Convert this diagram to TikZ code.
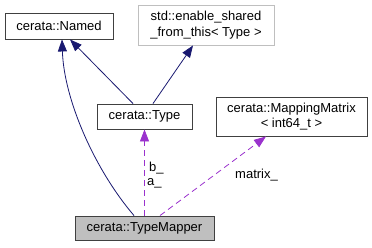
\documentclass[tikz,border=0pt]{standalone}
\usepackage{fontspec}
\setmainfont{Liberation Sans}
\usetikzlibrary{arrows.meta}

\tikzset{
  cls/.style={draw=black!75, line width=0.9pt, fill=white, inner sep=0pt,
    align=center, font=\fontsize{13}{15.5}\selectfont},
  inherit/.style={draw=navyline, line width=0.8pt,
    arrows={-{Triangle[length=12pt,width=9pt]}}},
  usage/.style={draw=usageline, line width=0.8pt, dash pattern=on 6pt off 4pt,
    arrows={-{Triangle[length=12pt,width=9pt]}}},
  lbl/.style={anchor=west, inner sep=0pt, font=\fontsize{13}{15.5}\selectfont},
}
\definecolor{navyline}{HTML}{191970}
\definecolor{usageline}{HTML}{9A32CD}

\begin{document}
\begin{tikzpicture}[x=1pt,y=-1pt]
            \useasboundingbox (0,0) rectangle (372,247);
            \node[cls, minimum width=108pt, minimum height=26pt] (named) at (59,26) {cerata::Named};
            \node[cls, draw=black!25, minimum width=136pt, minimum height=40pt] (shared) at (206,25) {std::enable\_shared\\\_from\_this< Type >};
            \node[cls, minimum width=95pt, minimum height=25pt] (type) at (144.5,116.5) {cerata::Type};
            \node[cls, minimum width=151pt, minimum height=39pt] (matrix) at (291.5,116.5) {cerata::MappingMatrix\\< int64\_t >};
            \node[cls, fill=black!25, minimum width=139pt, minimum height=24pt] (mapper) at (144.5,228) {cerata::TypeMapper};
            \draw[inherit] ([xshift=-10.5pt]mapper.north) .. controls (95,170) and (64,100) .. ([xshift=3pt]named.south);
            \draw[inherit] ([xshift=-11.5pt]type.north) -- ([xshift=11pt]named.south);
            \draw[inherit] ([xshift=8.5pt]type.north) -- ([xshift=-13pt]shared.south);
            \draw[usage] (mapper.north) -- (type.south);
            \draw[usage] ([xshift=15.5pt]mapper.north) -- ([xshift=-25.5pt]matrix.south);
            \node[lbl] (bname) at (149,168) {b\_};
            \node[lbl] (aname) at (147,183) {a\_};
            \node[lbl] (mname) at (235,175) {matrix\_};
        \end{tikzpicture}
\end{document}
